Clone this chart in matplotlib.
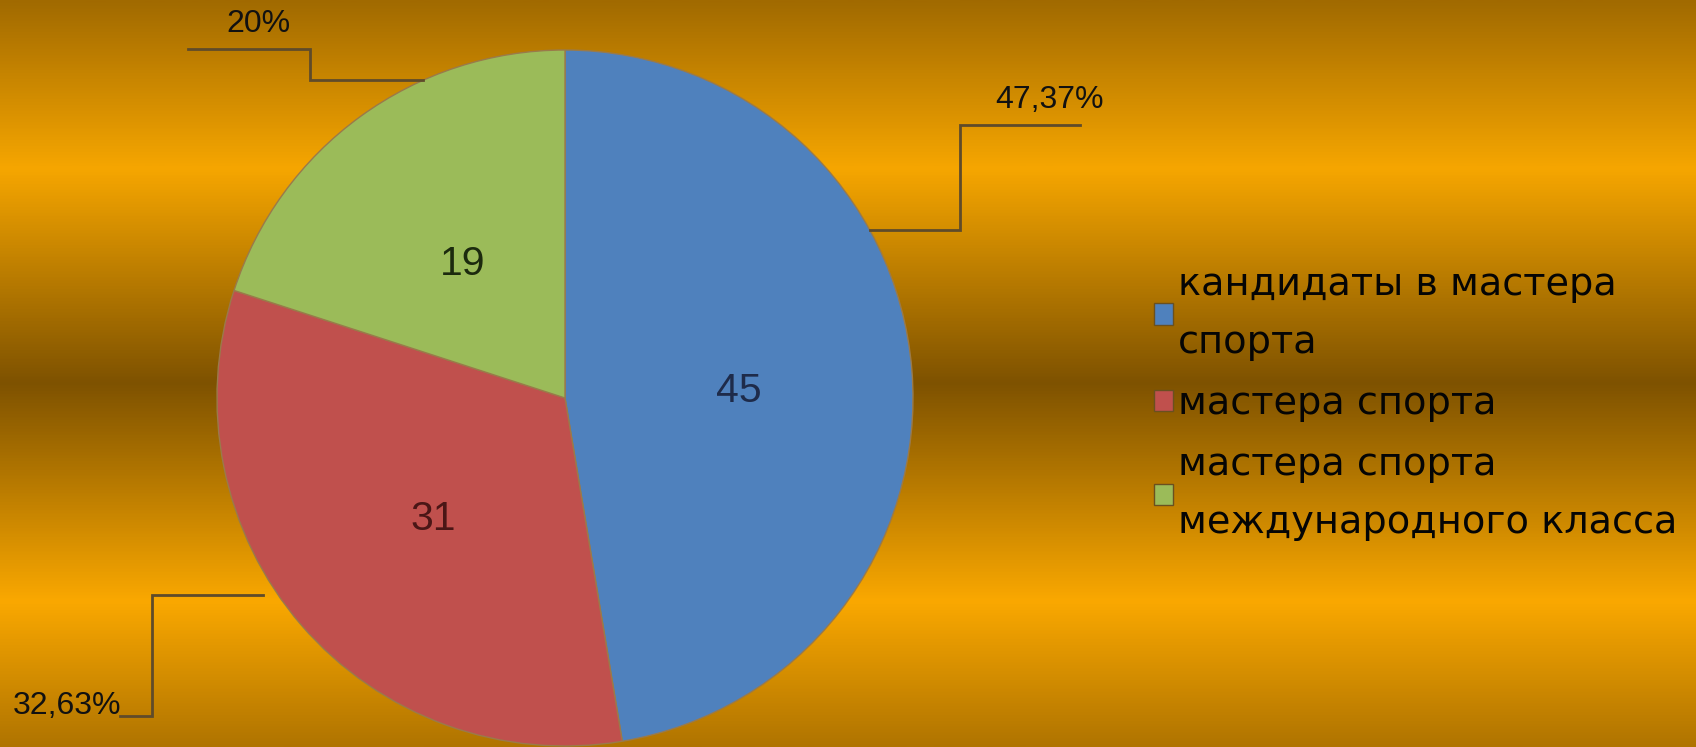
import matplotlib
matplotlib.use("Agg")
import matplotlib.pyplot as plt
import numpy as np
from matplotlib.colors import LinearSegmentedColormap

# ---- data ----
categories = ["кандидаты в мастера\nспорта", "мастера спорта", "мастера спорта\nмеждународного класса"]
values = [45, 31, 19]
slice_colors = ["#4F81BD", "#C0504D", "#9BBB59"]
value_text_colors = ["#1E2B4A", "#4A1616", "#1C2A0E"]

W, H = 1696, 747
fig = plt.figure(figsize=(W / 100, H / 100), dpi=100)
ax = fig.add_axes([0, 0, 1, 1])
ax.set_xlim(0, W)
ax.set_ylim(0, H)
ax.axis("off")

# background gradient (top -> bottom)
stops = [(0.0, "#A16A00"), (168 / 747, "#F6A600"), (383 / 747, "#7E5200"),
         (602 / 747, "#FAA800"), (1.0, "#B07400")]
cmap = LinearSegmentedColormap.from_list("bg", stops)
grad = np.linspace(0, 1, 512).reshape(-1, 1)
ax.imshow(grad, cmap=cmap, extent=[0, W, 0, H], aspect="auto", origin="upper", zorder=0)

total = sum(values)
cx, cy, R = 565, H - 398, 348

wedges, texts, autotexts = ax.pie(
    values, colors=slice_colors, startangle=90, counterclock=False,
    center=(cx, cy), radius=R, frame=True,
    autopct=lambda p: f"{p * total / 100:.0f}", pctdistance=0.5,
    wedgeprops=dict(edgecolor="#9a7a4a", linewidth=1.0),
    textprops=dict(fontsize=29.5, family=["Liberation Sans", "DejaVu Sans"]))
for t, c in zip(autotexts, value_text_colors):
    t.set_color(c)
    x, y = t.get_position()
    t.set_position((x, y - 7))
for w in wedges:
    w.set_zorder(2)
ax.set_xlim(0, W)
ax.set_ylim(0, H)
ax.axis("off")

# percent labels with elbow leader lines (layout in pixels from top)
def pct_label(v):
    s = f"{v / total * 100:.2f}".rstrip("0").rstrip(".")
    return s.replace(".", ",") + "%"

label_pos = [(1050, 100), (67, 706), (258, 24)]
leaders = [
    [(870, 230), (960, 230), (960, 125), (1080, 125)],
    [(263, 595), (152, 595), (152, 716), (120, 716)],
    [(423, 80), (310, 80), (310, 49), (188, 49)],
]
for v, (lx, ly), pts in zip(values, label_pos, leaders):
    xs = [p[0] for p in pts]
    ys = [H - p[1] for p in pts]
    ax.plot(xs, ys, color="#5f4b2a", lw=2.0, zorder=3, solid_joinstyle="miter")
    ax.text(lx, H - ly, pct_label(v), ha="center", va="center", fontsize=23,
            family=["Liberation Sans", "DejaVu Sans"], color="#111111", zorder=4)

leg = ax.legend(wedges, categories, loc="center left",
                bbox_to_anchor=(1154 / W, (H - 404) / H), frameon=False,
                handlelength=0.5, handleheight=0.5,
                handletextpad=0.12, borderpad=0, borderaxespad=0,
                labelspacing=0.66, prop=dict(family=["DejaVu Sans"], size=27.5))
for t in leg.get_texts():
    t.set_linespacing(1.78)
    t.set_color("#050505")
for h in leg.legend_handles:
    h.set_edgecolor("#6a5020")
    h.set_linewidth(1.0)

fig.savefig("out.png", dpi=100)
